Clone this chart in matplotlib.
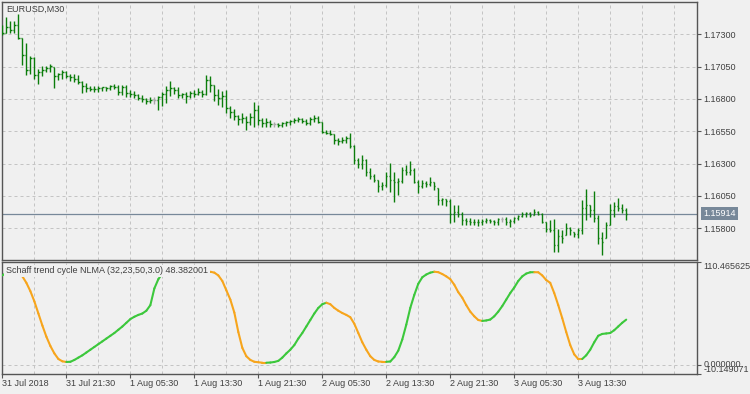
import numpy as np
import matplotlib.pyplot as plt
import matplotlib.transforms as mtransforms
from matplotlib.collections import LineCollection

plt.rcParams['font.family'] = ['Liberation Sans', 'DejaVu Sans']

# EURUSD M30 bars, 31 Jul 2018 13:30 onwards
highs = [1.17372, 1.17434, 1.17403, 1.17403, 1.17457, 1.17275, 1.17233, 1.17132, 1.17128, 1.17032,
         1.17055, 1.17055, 1.17074, 1.17047, 1.17001, 1.17024, 1.17020, 1.16997, 1.16993, 1.16985,
         1.16939, 1.16923, 1.16904, 1.16904, 1.16900, 1.16895, 1.16896, 1.16908, 1.16916, 1.16912,
         1.16912, 1.16912, 1.16869, 1.16865, 1.16838, 1.16831, 1.16811, 1.16815, 1.16815, 1.16827,
         1.16854, 1.16900, 1.16939, 1.16895, 1.16896, 1.16844, 1.16854, 1.16862, 1.16873, 1.16882,
         1.16873, 1.16989, 1.16981, 1.16908, 1.16877, 1.16865, 1.16869, 1.16746, 1.16726, 1.16676,
         1.16689, 1.16672, 1.16692, 1.16779, 1.16753, 1.16651, 1.16651, 1.16637, 1.16624, 1.16612,
         1.16624, 1.16632, 1.16637, 1.16651, 1.16658, 1.16651, 1.16643, 1.16658, 1.16676, 1.16668,
         1.16624, 1.16560, 1.16560, 1.16533, 1.16496, 1.16504, 1.16514, 1.16535, 1.16444, 1.16341,
         1.16367, 1.16336, 1.16264, 1.16220, 1.16174, 1.16161, 1.16238, 1.16307, 1.16238, 1.16187,
         1.16276, 1.16290, 1.16323, 1.16264, 1.16174, 1.16174, 1.16166, 1.16197, 1.16161, 1.16112,
         1.16032, 1.16024, 1.16024, 1.15980, 1.15980, 1.15926, 1.15878, 1.15878, 1.15870, 1.15870,
         1.15870, 1.15878, 1.15870, 1.15864, 1.15878, 1.15890, 1.15890, 1.15870, 1.15890, 1.15903,
         1.15929, 1.15929, 1.15929, 1.15946, 1.15936, 1.15921, 1.15851, 1.15864, 1.15870, 1.15793,
         1.15787, 1.15844, 1.15813, 1.15774, 1.15800, 1.16019, 1.16102, 1.15980, 1.16091, 1.15903,
         1.15772, 1.15851, 1.15988, 1.16004, 1.16032, 1.15988, 1.15955]
lows = [1.17294, 1.17310, 1.17310, 1.17310, 1.17264, 1.17063, 1.16985, 1.16993, 1.16954, 1.16916,
        1.16978, 1.17008, 1.17012, 1.16885, 1.16947, 1.16958, 1.16962, 1.16939, 1.16931, 1.16916,
        1.16850, 1.16854, 1.16862, 1.16856, 1.16856, 1.16858, 1.16862, 1.16869, 1.16881, 1.16831,
        1.16831, 1.16819, 1.16817, 1.16811, 1.16792, 1.16779, 1.16761, 1.16769, 1.16761, 1.16715,
        1.16742, 1.16769, 1.16823, 1.16838, 1.16805, 1.16805, 1.16767, 1.16811, 1.16815, 1.16831,
        1.16819, 1.16831, 1.16856, 1.16784, 1.16757, 1.16740, 1.16692, 1.16653, 1.16637, 1.16599,
        1.16612, 1.16560, 1.16599, 1.16586, 1.16599, 1.16586, 1.16586, 1.16586, 1.16586, 1.16581,
        1.16586, 1.16591, 1.16599, 1.16612, 1.16624, 1.16617, 1.16599, 1.16599, 1.16624, 1.16612,
        1.16535, 1.16529, 1.16518, 1.16452, 1.16444, 1.16457, 1.16462, 1.16421, 1.16297, 1.16266,
        1.16259, 1.16205, 1.16181, 1.16158, 1.16081, 1.16096, 1.16122, 1.16083, 1.16006, 1.16058,
        1.16148, 1.16212, 1.16212, 1.16148, 1.16071, 1.16112, 1.16117, 1.16127, 1.16096, 1.15980,
        1.15980, 1.15973, 1.15839, 1.15851, 1.15890, 1.15826, 1.15826, 1.15826, 1.15826, 1.15818,
        1.15826, 1.15839, 1.15844, 1.15826, 1.15826, 1.15851, 1.15826, 1.15813, 1.15839, 1.15864,
        1.15885, 1.15890, 1.15890, 1.15903, 1.15903, 1.15839, 1.15774, 1.15774, 1.15619, 1.15619,
        1.15689, 1.15748, 1.15748, 1.15735, 1.15723, 1.15756, 1.15864, 1.15888, 1.15851, 1.15679,
        1.15594, 1.15725, 1.15826, 1.15888, 1.15934, 1.15916, 1.15864]
closes = [1.17314, 1.17356, 1.17333, 1.17372, 1.17271, 1.17140, 1.17024, 1.17117, 1.16985, 1.17008,
          1.17024, 1.17039, 1.17055, 1.16978, 1.16993, 1.17008, 1.16978, 1.16970, 1.16954, 1.16931,
          1.16900, 1.16885, 1.16880, 1.16877, 1.16885, 1.16890, 1.16885, 1.16900, 1.16893, 1.16854,
          1.16892, 1.16846, 1.16838, 1.16831, 1.16807, 1.16800, 1.16784, 1.16792, 1.16792, 1.16815,
          1.16838, 1.16869, 1.16885, 1.16869, 1.16831, 1.16836, 1.16823, 1.16846, 1.16838, 1.16854,
          1.16838, 1.16947, 1.16908, 1.16831, 1.16807, 1.16823, 1.16730, 1.16699, 1.16668, 1.16645,
          1.16653, 1.16622, 1.16661, 1.16715, 1.16637, 1.16614, 1.16619, 1.16607, 1.16607, 1.16602,
          1.16614, 1.16622, 1.16630, 1.16637, 1.16645, 1.16630, 1.16614, 1.16645, 1.16653, 1.16622,
          1.16545, 1.16540, 1.16529, 1.16483, 1.16475, 1.16483, 1.16498, 1.16436, 1.16328, 1.16297,
          1.16328, 1.16235, 1.16205, 1.16174, 1.16127, 1.16135, 1.16205, 1.16174, 1.16158, 1.16166,
          1.16251, 1.16235, 1.16251, 1.16158, 1.16127, 1.16150, 1.16143, 1.16158, 1.16127, 1.16019,
          1.16024, 1.16011, 1.15911, 1.15926, 1.15911, 1.15864, 1.15857, 1.15852, 1.15849, 1.15845,
          1.15857, 1.15864, 1.15857, 1.15849, 1.15872, 1.15872, 1.15849, 1.15857, 1.15880, 1.15895,
          1.15911, 1.15915, 1.15906, 1.15926, 1.15911, 1.15849, 1.15795, 1.15790, 1.15671, 1.15741,
          1.15725, 1.15803, 1.15787, 1.15756, 1.15787, 1.15957, 1.15980, 1.15942, 1.15880, 1.15725,
          1.15694, 1.15826, 1.15942, 1.15973, 1.15957, 1.15942, 1.15914]
first_open = 1.17340

# Schaff trend cycle NLMA (32,23,50,3.0)
stc = [96, 99, 100, 100, 99, 95, 88, 79, 68, 55,
       42, 30, 20, 12, 6, 3.5, 2.8, 3, 5, 7.5,
       10, 13, 16, 19, 22, 25, 28, 31, 34, 37.5,
       41, 45, 49, 51.5, 53.5, 55, 58, 64, 82, 92,
       98, 100, 100, 100, 100, 100, 100, 100, 100, 100,
       100, 100, 100, 99, 96, 90, 80, 70, 56, 35,
       18, 9, 5, 3, 2.5, 2, 2, 2.2, 2.8, 4,
       7.5, 12, 16, 21, 28, 34, 41, 48, 55, 61,
       65, 66.6, 65, 61, 58, 55.5, 53.5, 51, 44, 34,
       24, 16, 9, 5, 3.3, 3, 3, 3.3, 8, 15,
       27, 43, 61, 75, 87, 94, 97, 99, 100, 99.5,
       97.5, 95, 92, 86, 78, 72, 64, 57, 52, 48,
       47, 47.5, 48.5, 52, 57, 63, 70, 77, 83, 90,
       95, 98, 99.4, 99.5, 99.4, 96, 91, 88, 77, 64,
       50, 35, 21, 11, 6, 6, 10, 16, 24, 31,
       33, 33.5, 34, 37, 41, 45, 48.382001]

time_labels = ['31 Jul 2018', '31 Jul 21:30', '1 Aug 05:30', '1 Aug 13:30', '1 Aug 21:30',
               '2 Aug 05:30', '2 Aug 13:30', '2 Aug 21:30', '3 Aug 05:30', '3 Aug 13:30']
price_ticks = [1.15800, 1.16050, 1.16300, 1.16550, 1.16800, 1.17050, 1.17300]
last_price = 1.15914
stc_top = 110.465625
stc_bottom = -10.149071

bg = '#f0f0f0'
frame = '#555555'
txt = '#404040'
grid_c = '#c4c4c4'

fig = plt.figure(figsize=(7.5, 3.94), dpi=100, facecolor=bg)
ax = fig.add_axes([2/750, 134/394, 695/750, 258/394])
ax2 = fig.add_axes([2/750, 20/394, 695/750, 112/394])

major = list(range(0, 16*len(time_labels), 16))
minor = [i for i in range(8, 174, 8) if i not in major]
for a in (ax, ax2):
    a.set_facecolor(bg)
    a.set_xlim(-0.1, 173.7)
    for s in a.spines.values():
        s.set_color(frame)
        s.set_linewidth(1)
    a.yaxis.tick_right()
    a.set_xticks(major)
    a.set_xticks(minor, minor=True)
    a.grid(True, which='both', color=grid_c, lw=0.72, ls=(0, (3, 3)))
    a.set_axisbelow(True)
    a.tick_params(which='minor', length=0)
    a.tick_params(axis='y', direction='out', length=3, width=0.8, pad=1.5,
                  labelsize=6.5, color=frame, labelcolor=txt)

# price bars (open tick left, close tick right)
x = np.arange(len(closes))
closes_a = np.array(closes)
opens = np.clip(np.r_[first_open, closes_a[:-1]], lows, highs)
cols = np.where(opens == closes_a, '#a8a8a8', '#0b7d0b')
ax.vlines(x, lows, highs, colors=cols, lw=1.0, zorder=3)
ax.hlines(opens, x - 0.3, x, colors=cols, lw=1.0, zorder=3)
ax.hlines(closes_a, x, x + 0.3, colors=cols, lw=1.0, zorder=3)

ax.set_ylim(1.15555, 1.17550)
ax.set_yticks(price_ticks)
ax.set_yticklabels(['%.5f' % p for p in price_ticks])
ax.tick_params(axis='x', length=0, labelbottom=False)

ax.axhline(last_price, color='#778899', lw=0.9, zorder=2)
trans = mtransforms.blended_transform_factory(ax.transAxes, ax.transData)
ax.text(1 + 6/695, last_price, '%.5f' % last_price, transform=trans, ha='left', va='center',
        color='white', fontsize=6.5, clip_on=False,
        bbox=dict(boxstyle='square,pad=0.25', fc='#778899', ec='none'))
ax.text(0.0068, 0.970, 'EURUSD,M30', transform=ax.transAxes, ha='left', va='center',
        color=txt, fontsize=6.5)

# indicator panel, coloured by slope
v = np.array(stc)
segs = []
seg_cols = []
up = True
for i in range(1, len(v)):
    if v[i] > v[i-1]:
        up = True
    elif v[i] < v[i-1]:
        up = False
    segs.append([(i-1, v[i-1]), (i, v[i])])
    seg_cols.append('#3cc83c' if up else '#f7a51c')
ax2.add_collection(LineCollection(segs, colors=seg_cols, lw=1.5, zorder=3, capstyle='round'))

ax2.set_ylim(stc_bottom, stc_top)
ax2.set_yticks([stc_bottom, 0, stc_top])
ax2.set_yticklabels(['%.6f' % stc_bottom, '0.000000', '%.6f' % stc_top])
for lab, va in zip(ax2.get_yticklabels(), ['bottom', 'center', 'top']):
    lab.set_va(va)
ax2.set_xticklabels(time_labels, ha='left')
ax2.tick_params(axis='x', direction='out', length=3, width=0.8, pad=0.5,
                labelsize=6.5, color=frame, labelcolor=txt)
ax2.text(0.0058, 0.92, 'Schaff trend cycle NLMA (32,23,50,3.0) %.6f' % stc[-1],
         transform=ax2.transAxes, ha='left', va='center', color=txt, fontsize=6.5, zorder=5,
         bbox=dict(boxstyle='square,pad=0.2', fc=bg, ec='none'))

fig.savefig('out.png', dpi=100, facecolor=bg)
